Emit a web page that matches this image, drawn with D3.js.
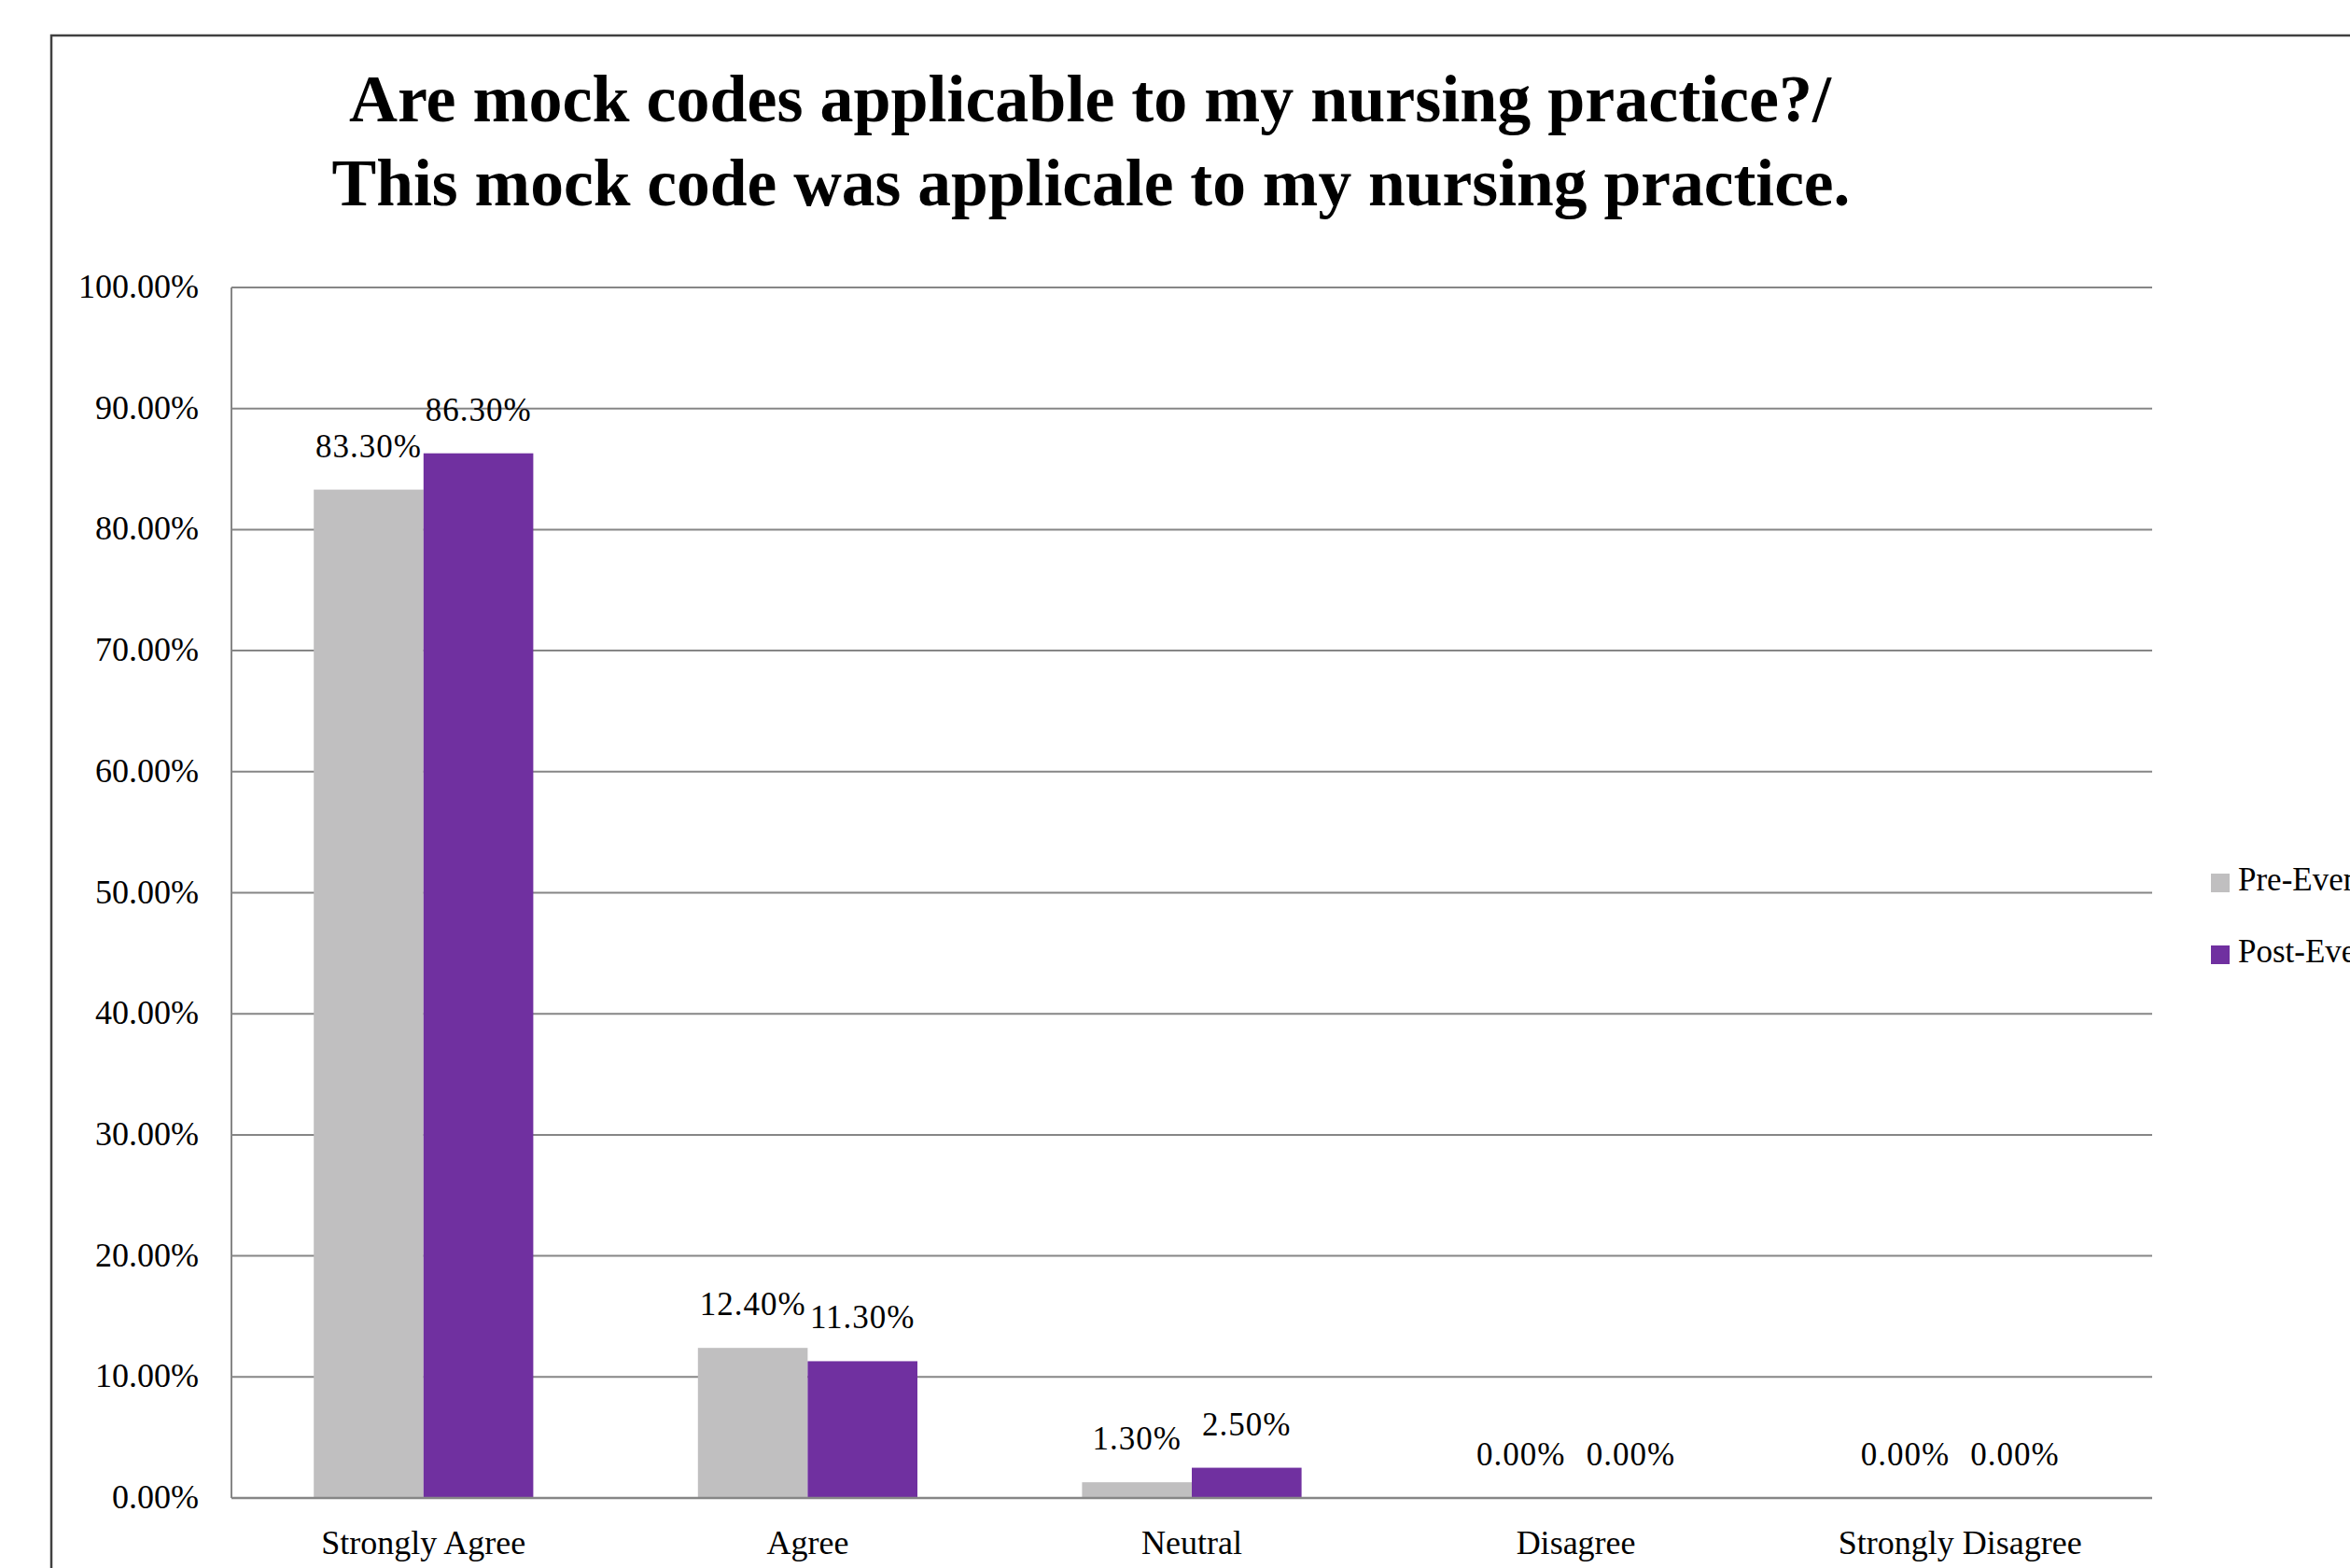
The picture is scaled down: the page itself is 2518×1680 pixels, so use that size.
<!DOCTYPE html>
<html>
<head>
<meta charset="utf-8">
<script src="https://cdn.jsdelivr.net/npm/d3@7"></script>
<style>
  html, body { margin: 0; padding: 0; background: #fff; overflow: hidden; }
  svg { display: block; }
  text { font-family: "Liberation Serif", "Times New Roman", serif; fill: #000; }
</style>
</head>
<body>
<svg id="chart" width="2518" height="1680"></svg>
<script>
// Survey responses (percent of respondents)
const categories = ["Strongly Agree", "Agree", "Neutral", "Disagree", "Strongly Disagree"];
const seriesNames = ["Pre-Event", "Post-Event"];
const preEvent = [83.3, 12.4, 1.3, 0.0, 0.0];
const postEvent = [86.3, 11.3, 2.5, 0.0, 0.0];
const yTicks = [0, 10, 20, 30, 40, 50, 60, 70, 80, 90, 100];
const titleLines = [
  "Are mock codes applicable to my nursing practice?/",
  "This mock code was applicale to my nursing practice."
];
const seriesColors = ["#C0BFC0", "#7030A0"];

const svg = d3.select("#chart");

// Outer chart frame (extends past the visible page on the right and bottom)
svg.append("rect")
  .attr("x", 55).attr("y", 38)
  .attr("width", 2600).attr("height", 1800)
  .attr("fill", "none")
  .attr("stroke", "#404040")
  .attr("stroke-width", 2.5);

// Title
const titleG = svg.append("g");
const titleSpecs = [
  { y: 130, width: 1588, cx: 1168 },
  { y: 220, width: 1627, cx: 1169 }
];
titleLines.forEach((t, i) => {
  titleG.append("text")
    .attr("x", titleSpecs[i].cx)
    .attr("y", titleSpecs[i].y)
    .attr("text-anchor", "middle")
    .attr("font-size", 72)
    .attr("font-weight", "bold")
    .attr("textLength", titleSpecs[i].width)
    .attr("lengthAdjust", "spacingAndGlyphs")
    .text(t);
});

// Plot area
const plot = { left: 248, right: 2306, top: 308, bottom: 1605 };

const x0 = d3.scaleBand()
  .domain(categories)
  .range([plot.left, plot.right])
  .paddingInner(0).paddingOuter(0);

const x1 = d3.scaleBand()
  .domain(seriesNames)
  .range([0, x0.bandwidth()])
  .paddingInner(0)
  .paddingOuter(0.75);

const y = d3.scaleLinear()
  .domain([0, 100])
  .range([plot.bottom, plot.top]);

// Horizontal gridlines
svg.append("g")
  .selectAll("line")
  .data(yTicks)
  .join("line")
  .attr("x1", plot.left).attr("x2", plot.right)
  .attr("y1", d => y(d)).attr("y2", d => y(d))
  .attr("stroke", "#868686")
  .attr("stroke-width", 2);

// Vertical value axis line
svg.append("line")
  .attr("x1", plot.left).attr("x2", plot.left)
  .attr("y1", plot.top).attr("y2", plot.bottom)
  .attr("stroke", "#868686")
  .attr("stroke-width", 2);

// Y tick labels
svg.append("g")
  .selectAll("text")
  .data(yTicks)
  .join("text")
  .attr("x", 213)
  .attr("y", d => y(d) + 11)
  .attr("text-anchor", "end")
  .attr("font-size", 36)
  .text(d => d.toFixed(2) + "%");

// Bars
const rows = categories.map((c, i) => ({
  category: c,
  values: [
    { series: seriesNames[0], value: preEvent[i], color: seriesColors[0] },
    { series: seriesNames[1], value: postEvent[i], color: seriesColors[1] }
  ]
}));

const groups = svg.append("g")
  .selectAll("g")
  .data(rows)
  .join("g")
  .attr("transform", d => `translate(${x0(d.category)},0)`);

groups.selectAll("rect")
  .data(d => d.values)
  .join("rect")
  .attr("x", d => x1(d.series))
  .attr("y", d => y(d.value))
  .attr("width", x1.bandwidth())
  .attr("height", d => y(0) - y(d.value))
  .attr("fill", d => d.color);

// Data labels
groups.selectAll("text")
  .data(d => d.values)
  .join("text")
  .attr("x", d => x1(d.series) + x1.bandwidth() / 2)
  .attr("y", d => y(d.value) - 35)
  .attr("text-anchor", "middle")
  .attr("font-size", 35)
  .attr("letter-spacing", 1)
  .text(d => d.value.toFixed(2) + "%");

// Category axis baseline redrawn over bars
svg.append("line")
  .attr("x1", plot.left).attr("x2", plot.right)
  .attr("y1", y(0)).attr("y2", y(0))
  .attr("stroke", "#868686")
  .attr("stroke-width", 2.5);

// Category labels
svg.append("g")
  .selectAll("text")
  .data(categories)
  .join("text")
  .attr("x", d => x0(d) + x0.bandwidth() / 2)
  .attr("y", 1665)
  .attr("text-anchor", "middle")
  .attr("font-size", 36)
  .text(d => d);

// Legend
const legend = svg.append("g")
  .selectAll("g")
  .data(seriesNames)
  .join("g")
  .attr("transform", (d, i) => `translate(2369, ${936 + i * 77})`);

legend.append("rect")
  .attr("width", 20).attr("height", 20)
  .attr("fill", (d, i) => seriesColors[i]);

legend.append("text")
  .attr("x", 29)
  .attr("y", 18)
  .attr("font-size", 35)
  .text(d => d);
</script>
</body>
</html>
